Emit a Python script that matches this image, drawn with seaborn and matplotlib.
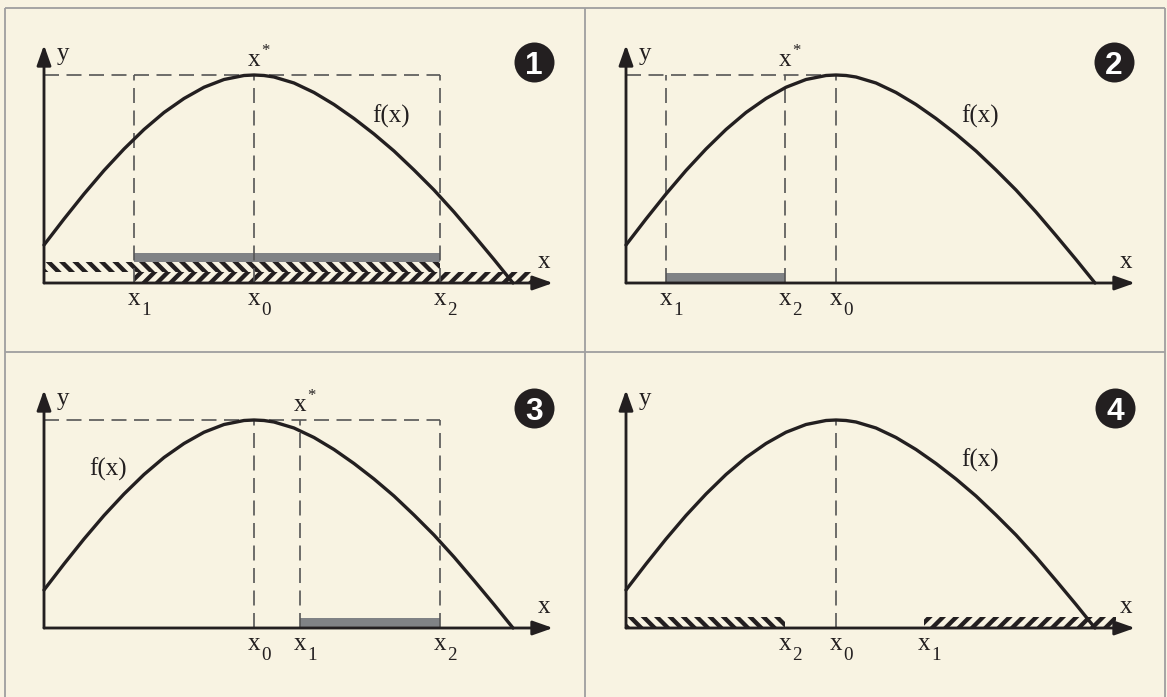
import matplotlib
matplotlib.use("Agg")
import matplotlib.pyplot as plt
import seaborn as sns

# ---- shared objective curve f(x), in axis units (origin at the axes corner)
curve_x = [0.0, 0.4, 0.8, 1.2, 1.6, 2.0, 2.4, 2.8, 3.2, 3.6, 4.0, 4.2,
           4.4, 4.6, 5.0, 5.4, 5.8, 6.2, 6.6, 7.0, 7.4, 7.8, 8.2, 8.6,
           9.0, 9.38]
curve_y = [0.76, 1.28, 1.78, 2.25, 2.68, 3.07, 3.41, 3.69, 3.915, 4.07,
           4.15, 4.16, 4.15, 4.12, 4.00, 3.81, 3.57, 3.29, 2.98, 2.64,
           2.26, 1.86, 1.42, 0.95, 0.47, 0.0]

x0_val = 4.20          # unconstrained maximiser
peak_val = 4.16        # f(x0)

# ---- per-case interval ends and constrained optimum
case_ids = ["1", "2", "3", "4"]
x1_vals = [1.80, 0.80, 5.12, 5.96]
x2_vals = [7.92, 3.18, 7.92, 3.18]
xstar_vals = [4.20, 3.18, 5.12, None]
guide_sets = [["x1", "x0", "x2"], ["x1", "x2", "x0"], ["x0", "x1", "x2"], ["x0"]]
top_guide = [True, True, True, False]

# feasible interval (solid grey bar): [start, end, bottom, top]
grey_bars = [["x1", "x2", 0.42, 0.60], ["x1", "x2", 0.0, 0.20],
             ["x1", "x2", 0.0, 0.20], None]
# hatched half-lines: x <= x2 (back-slash) and x >= x1 (slash)
left_bands = [[0.0, "x2", 0.22, 0.42], None, None, [0.0, "x2", 0.0, 0.22]]
right_bands = [["x1", 9.80, 0.0, 0.22], None, None, ["x1", 9.80, 0.0, 0.22]]

fx_label_pos = [(6.94, 3.34), (7.08, 3.34), (1.28, 3.18), (7.08, 3.36)]

# ---- page layout (pixels)
W, H, DPI = 1167, 697, 120
SCALE = 50.0  # pixels per axis unit
panel_boxes = [(5, 8, 585, 352), (585, 8, 1165, 352),
               (5, 352, 585, 697), (585, 352, 1165, 697)]
panel_origins = [(44, 283), (626, 283), (44, 628), (626, 628)]
badge_pos = [(9.80, 4.42), (9.76, 4.42), (9.80, 4.40), (9.78, 4.40)]

BG = "#f8f3e2"
INK = "#231f20"
DASH = "#555555"
GREY = "#808285"
FRAME = "#a0a0a0"
FS = 15
SUB_FS = 11.5

sns.set_theme(style="white")
plt.rcParams.update({
    "font.family": ["Liberation Serif", "DejaVu Serif"],
    "hatch.linewidth": 2.6,
})

fig = plt.figure(figsize=(W / DPI, H / DPI), dpi=DPI, facecolor=BG)

# frame around the four cases
bg = fig.add_axes([0, 0, 1, 1])
bg.set_xlim(0, W)
bg.set_ylim(H, 0)
bg.axis("off")
bg.vlines([5, 585, 1165], 8, H + 5, color=FRAME, lw=1.1)
bg.hlines([8, 352], 5, 1165, color=FRAME, lw=1.1)


def resolve(v, pts):
    return pts[v] if isinstance(v, str) else v


def x_label(ax, xv, yv, mark, sup=False):
    """An upright 'x' centred on xv with a sub- or superscript mark."""
    ax.text(xv, yv, "x", fontsize=FS, ha="center", va="baseline", color=INK)
    if sup:
        ax.annotate(mark, xy=(xv, yv), xytext=(4.6, 6.5),
                    textcoords="offset points", fontsize=10,
                    ha="left", va="baseline", color=INK)
    else:
        ax.annotate(mark, xy=(xv, yv), xytext=(4.2, -5.8),
                    textcoords="offset points", fontsize=SUB_FS,
                    ha="left", va="baseline", color=INK)


for k in range(4):
    L, T, R, B = panel_boxes[k]
    ox, oy = panel_origins[k]
    ax = fig.add_axes([L / W, 1 - B / H, (R - L) / W, (B - T) / H])
    ax.set_xlim((L - ox) / SCALE, (R - ox) / SCALE)
    ax.set_ylim((oy - B) / SCALE, (oy - T) / SCALE)
    ax.axis("off")
    ax.patch.set_alpha(0)

    pts = {"x0": x0_val, "x1": x1_vals[k], "x2": x2_vals[k]}

    # feasible interval and half-line constraints
    if grey_bars[k] is not None:
        a, b, lo, hi = grey_bars[k]
        a, b = resolve(a, pts), resolve(b, pts)
        ax.barh(lo + (hi - lo) / 2, b - a, left=a, height=hi - lo,
                color=GREY, lw=0, zorder=2)
    for band, pattern in ((left_bands[k], "\\\\\\"), (right_bands[k], "///")):
        if band is None:
            continue
        a, b, lo, hi = band
        a, b = resolve(a, pts), resolve(b, pts)
        ax.barh(lo + (hi - lo) / 2, b - a, left=a, height=hi - lo,
                facecolor="none", edgecolor=INK, hatch=pattern, lw=0, zorder=2)

    # dashed guides
    gx = [pts[g] for g in guide_sets[k]]
    ax.vlines(gx, 0, peak_val, colors=DASH, lw=1.0,
              linestyles=(0, (9, 4.5)), zorder=3)
    if top_guide[k]:
        ax.hlines(peak_val, 0, max(gx), colors=DASH, lw=1.0,
                  linestyles=(0, (9, 4.5)), zorder=3)

    # coordinate axes with arrow heads
    arrow = dict(arrowstyle="-|>,head_length=0.85,head_width=0.3",
                 lw=1.7, color=INK, shrinkA=0, shrinkB=0)
    ax.annotate("", xy=(10.18, 0), xytext=(0, 0), arrowprops=arrow, zorder=4)
    ax.annotate("", xy=(0, 4.76), xytext=(0, 0), arrowprops=arrow, zorder=4)
    ax.text(10.0, 0.30, "x", fontsize=FS, ha="center", va="baseline", color=INK)
    ax.text(0.26, 4.46, "y", fontsize=FS, ha="left", va="baseline", color=INK)

    # objective curve
    sns.lineplot(x=curve_x, y=curve_y, ax=ax, color=INK, lw=2.0,
                 sort=False, estimator=None, zorder=5)
    fx, fy = fx_label_pos[k]
    ax.text(fx, fy, "f(x)", fontsize=FS, ha="center", va="center", color=INK)

    # labels under the x axis and the constrained optimum
    for name in ("x0", "x1", "x2"):
        x_label(ax, pts[name], -0.44, name[1])
    if xstar_vals[k] is not None:
        x_label(ax, xstar_vals[k], 4.34, "*", sup=True)

    # case number badge
    bx, by = badge_pos[k]
    ax.plot([bx], [by], marker="o", ms=24, color=INK, mew=0, zorder=6)
    ax.text(bx, by, case_ids[k], fontsize=19, fontweight="bold",
            family=["Liberation Sans", "DejaVu Sans"], color="white",
            ha="center", va="center_baseline", zorder=7)

fig.savefig("out.png", dpi=DPI, facecolor=BG)
